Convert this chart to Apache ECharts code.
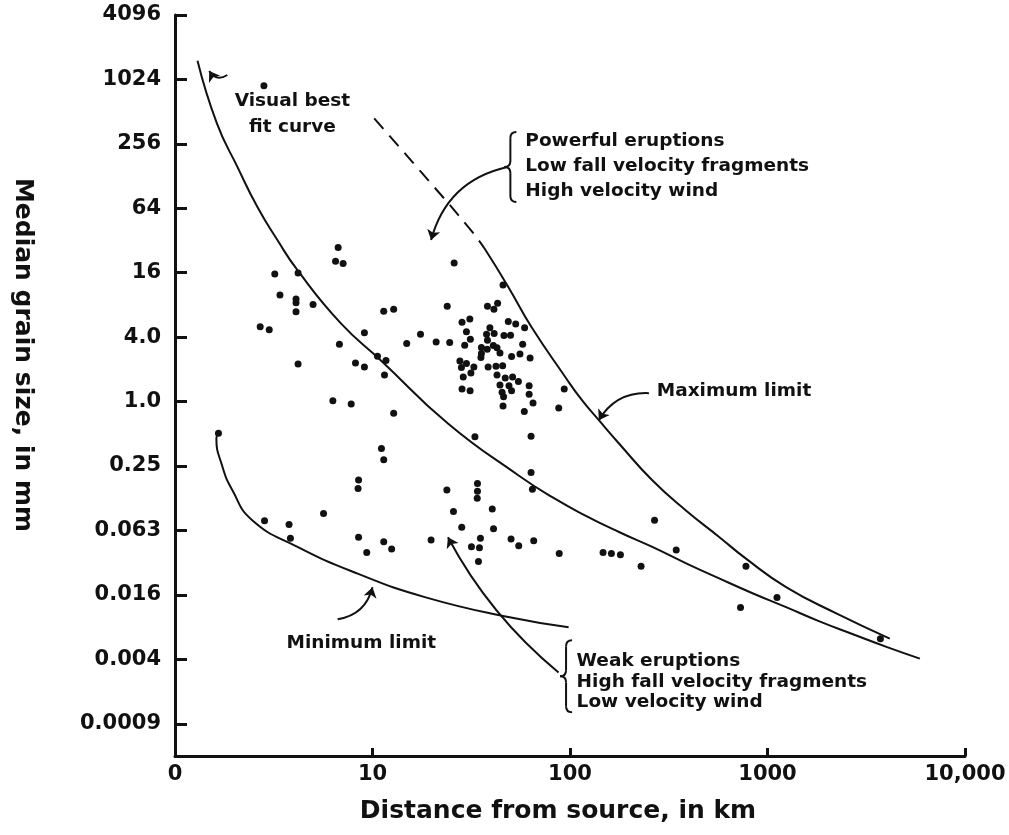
<!DOCTYPE html>
<html>
<head>
<meta charset="utf-8">
<script src="https://cdn.jsdelivr.net/npm/echarts@6/dist/echarts.min.js"></script>
<style>
  html, body { margin: 0; background: #fff; }
  #chart { width: 1009px; height: 835px; }
</style>
</head>
<body>
<div id="chart"></div>
<script>
// tick labels
const xTickLabels = ['0', '10', '100', '1000', '10,000']
const yTickExp = [12, 10, 8, 6, 4, 2, 0, -2, -4, -6, -8, -10]
const yTickLabels = ['4096', '1024', '256', '64', '16', '4.0', '1.0', '0.25', '0.063', '0.016', '0.004', '0.0009']

// samples: distance from source (km) / median grain size (mm)
const sampleKm = [
  6.7, 6.5, 7.1, 3.2, 4.2, 3.4, 4.1, 4.1, 4.1, 5.0, 11.4, 12.8, 23.9, 2.7, 3.0, 9.1, 6.8, 14.9, 17.5, 21.0,
  4.2, 8.2, 9.1, 10.6, 11.7, 11.5, 6.3, 7.8, 12.8, 25.9, 45.8, 38.2, 43.0, 41.2, 28.4, 31.1, 48.7, 53.1, 58.9, 29.9,
  39.3, 37.8, 41.3, 46.3, 50.0, 24.6, 31.3, 29.3, 38.2, 40.9, 35.6, 38.1, 42.7, 57.6, 44.2, 35.6, 35.4, 50.6, 55.8, 62.8,
  27.7, 29.9, 28.2, 32.6, 31.5, 38.5, 42.2, 45.6, 42.7, 28.8, 47.0, 51.2, 54.8, 44.2, 49.1, 62.1, 28.4, 31.2, 45.3, 50.6,
  62.1, 93.5, 46.1, 65.0, 45.8, 58.7, 87.7, 33.0, 63.5, 11.1, 11.4, 8.5, 8.45, 63.5, 64.5, 34.0, 34.0, 33.9, 23.8, 25.7,
  40.4, 5.65, 2.84, 3.78, 3.84, 28.3, 41.0, 8.5, 11.4, 12.5, 9.35, 19.8, 35.2, 50.3, 55.0, 65.5, 31.7, 34.8, 34.4, 88.2,
  268, 345, 147, 162, 180, 229, 778, 1117, 730, 3730, 2.82, 1.66
]
const sampleMm = [
  27.6, 20.5, 19.5, 15.6, 15.9, 9.9, 9.1, 8.4, 6.9, 8.1, 7.0, 7.3, 7.8, 5.0, 4.7, 4.4, 3.44, 3.5, 4.26, 3.6,
  2.25, 2.29, 2.11, 2.66, 2.42, 1.77, 1.02, 0.95, 0.78, 19.7, 12.3, 7.8, 8.3, 7.3, 5.5, 5.9, 5.6, 5.3, 4.9, 4.5,
  4.9, 4.26, 4.33, 4.15, 4.18, 3.57, 3.83, 3.37, 3.75, 3.35, 3.2, 3.09, 3.18, 3.44, 2.85, 2.82, 2.58, 2.64, 2.79, 2.56,
  2.39, 2.27, 2.08, 2.11, 1.85, 2.11, 2.14, 2.16, 1.77, 1.7, 1.66, 1.7, 1.54, 1.43, 1.41, 1.41, 1.31, 1.26, 1.22, 1.26,
  1.17, 1.31, 1.11, 0.97, 0.91, 0.81, 0.87, 0.47, 0.475, 0.364, 0.287, 0.185, 0.154, 0.217, 0.152, 0.172, 0.145, 0.125, 0.149, 0.094,
  0.099, 0.09, 0.077, 0.071, 0.053, 0.067, 0.065, 0.054, 0.049, 0.042, 0.039, 0.051, 0.053, 0.052, 0.045, 0.05, 0.044, 0.043, 0.032, 0.038,
  0.078, 0.041, 0.039, 0.038, 0.037, 0.029, 0.029, 0.0148, 0.0119, 0.0061, 894, 0.507
]

// curves
const bestFitKm = [1.30, 1.63, 2.07, 2.61, 3.30, 4.17, 6.90, 11.0, 24.1, 54.7, 80.9, 119, 177, 261, 385, 569, 840, 1242, 1833, 2710, 4000, 5910]
const bestFitMm = [1532, 398, 156, 66.1, 32.3, 16.9, 5.41, 2.44, 0.624, 0.205, 0.1285, 0.0867, 0.0605, 0.0439, 0.031, 0.0223, 0.0162, 0.012, 0.00884, 0.0067, 0.00511, 0.00397]
const maxDashKm = [10.2, 17.6, 30.5, 36.8]
const maxDashMm = [443, 140, 43.0, 27.2]
const maxLimitKm = [36.8, 48.7, 63.7, 94.6, 115, 140, 177, 261, 385, 569, 778, 1242, 2230, 4160]
const maxLimitMm = [27.2, 11.8, 5.0, 1.70, 1.03, 0.67, 0.406, 0.184, 0.0965, 0.0544, 0.0341, 0.0185, 0.0105, 0.00611]
const minLimitKm = [1.66, 1.62, 1.73, 1.95, 2.46, 4.17, 8.41, 18.4, 48.7, 98.4]
const minLimitMm = [0.507, 0.455, 0.254, 0.149, 0.078, 0.044, 0.0247, 0.0149, 0.0097, 0.0078]

// annotation arrows [fromKm, fromMm, toKm, toMm]
const arrowCoords = [
  [1.84, 1126, 1.49, 1228],
  [47.6, 155, 19.8, 32.3],
  [251, 1.2, 140, 0.67],
  [6.66, 0.00924, 10.0, 0.0184],
  [87.5, 0.00295, 24.1, 0.054]
]
const arrowBend = [0.5, -0.3, -0.3, -0.33, 0.1]

// annotation texts
const noteText = [
  'Powerful eruptions\nLow fall velocity fragments\nHigh velocity wind',
  'Maximum limit',
  'Minimum limit',
  'Weak eruptions\nHigh fall velocity fragments\nLow velocity wind'
]
const noteKm = [59.4, 275, 3.67, 108]
const noteMm = [159, 1.25, 0.0055, 0.00239]
const noteLineHeight = [25, 20, 20, 20.5]

// braces [km, topMm, bottomMm]
const braces = [[49.9, 330, 73.2], [95.5, 0.00588, 0.00125]]

const INK = '#111'
const FONT = 'DejaVu Sans'

const chart = echarts.init(document.getElementById('chart'))

function pts (km, mm) {
  return km.map((d, i) => [d, Math.log2(mm[i])])
}

function curve (km, mm, dashed) {
  return {
    type: 'line',
    data: pts(km, mm),
    smooth: 0.5,
    symbol: 'none',
    silent: true,
    lineStyle: { color: INK, width: 2, type: dashed ? [14, 9] : 'solid' }
  }
}

const option = {
  animation: false,
  backgroundColor: '#fff',
  grid: { left: 175, right: 44, top: 15, bottom: 79 },
  xAxis: {
    type: 'log',
    logBase: 10,
    min: 1,
    max: 10000,
    axisLine: { onZero: false, lineStyle: { color: INK, width: 3 } },
    axisTick: { inside: true, length: 8, lineStyle: { color: INK, width: 3 } },
    axisLabel: {
      color: INK,
      fontFamily: FONT,
      fontWeight: 'bold',
      fontSize: 21,
      margin: 8,
      formatter: v => xTickLabels[Math.round(Math.log10(v))]
    },
    splitLine: { show: false },
    minorTick: { show: false }
  },
  yAxis: {
    type: 'value',
    min: -11,
    max: 12,
    axisLine: { show: true, onZero: false, lineStyle: { color: INK, width: 3 } },
    axisTick: { show: true, inside: true, length: 12, customValues: yTickExp, lineStyle: { color: INK, width: 3 } },
    axisLabel: {
      color: INK,
      fontFamily: FONT,
      fontWeight: 'bold',
      fontSize: 21,
      margin: 14,
      customValues: yTickExp,
      formatter: v => {
        const i = yTickExp.indexOf(v)
        return i < 0 ? '' : yTickLabels[i]
      }
    },
    splitLine: { show: false }
  },
  series: [
    curve(bestFitKm, bestFitMm, false),
    curve(maxDashKm, maxDashMm, true),
    curve(maxLimitKm, maxLimitMm, false),
    curve(minLimitKm, minLimitMm, false),
    {
      type: 'scatter',
      data: pts(sampleKm, sampleMm),
      symbolSize: 7,
      itemStyle: { color: INK, opacity: 1 }
    },
    {
      type: 'lines',
      coordinateSystem: 'cartesian2d',
      symbol: ['none', 'arrow'],
      symbolSize: 10,
      silent: true,
      lineStyle: { color: INK, width: 2, opacity: 1 },
      data: arrowCoords.map((a, i) => ({
        coords: [[a[0], Math.log2(a[1])], [a[2], Math.log2(a[3])]],
        lineStyle: { curveness: arrowBend[i] }
      }))
    },
    {
      type: 'scatter',
      symbolSize: 0,
      silent: true,
      itemStyle: { opacity: 1 },
      data: noteText.map((t, i) => ({
        value: [noteKm[i], Math.log2(noteMm[i])],
        label: {
          show: true,
          position: 'right',
          distance: 0,
          formatter: t,
          color: INK,
          fontFamily: FONT,
          fontWeight: 'bold',
          fontSize: 18.5,
          lineHeight: noteLineHeight[i]
        }
      }))
    },
    {
      // "Visual best fit curve" label, centred on its anchor
      type: 'scatter',
      symbolSize: 0,
      silent: true,
      itemStyle: { opacity: 1 },
      data: [{
        value: [3.93, Math.log2(486)],
        label: {
          show: true,
          position: 'inside',
          formatter: 'Visual best\nfit curve',
          color: INK,
          fontFamily: FONT,
          fontWeight: 'bold',
          fontSize: 18.5,
          lineHeight: 26
        }
      }]
    }
  ]
}

chart.setOption(option)

// braces: curly bracket opening to the right, tip pointing left
const stroke = { stroke: INK, lineWidth: 2, fill: 'none' }
function brace (x, y0, y1, w) {
  const m = (y0 + y1) / 2
  return {
    type: 'group',
    children: [
      { type: 'bezierCurve', shape: { x1: x + w, y1: y0, cpx1: x, cpy1: y0, x2: x, y2: y0 + w }, style: stroke },
      { type: 'line', shape: { x1: x, y1: y0 + w, x2: x, y2: m - w }, style: stroke },
      { type: 'bezierCurve', shape: { x1: x, y1: m - w, cpx1: x, cpy1: m, x2: x - w, y2: m }, style: stroke },
      { type: 'bezierCurve', shape: { x1: x - w, y1: m, cpx1: x, cpy1: m, x2: x, y2: m + w }, style: stroke },
      { type: 'line', shape: { x1: x, y1: m + w, x2: x, y2: y1 - w }, style: stroke },
      { type: 'bezierCurve', shape: { x1: x, y1: y1 - w, cpx1: x, cpy1: y1, x2: x + w, y2: y1 }, style: stroke }
    ]
  }
}

const graphics = braces.map(b => {
  const top = chart.convertToPixel({ gridIndex: 0 }, [b[0], Math.log2(b[1])])
  const bot = chart.convertToPixel({ gridIndex: 0 }, [b[0], Math.log2(b[2])])
  return brace(top[0], top[1], bot[1], 6)
})

graphics.push({
  type: 'text',
  x: 558,
  y: 811,
  style: {
    text: 'Distance from source, in km',
    fill: INK,
    font: 'bold 25px "DejaVu Sans"',
    align: 'center',
    verticalAlign: 'middle'
  }
})
graphics.push({
  type: 'text',
  x: 22,
  y: 355,
  rotation: -Math.PI / 2,
  style: {
    text: 'Median grain size, in mm',
    fill: INK,
    font: 'bold 25px "DejaVu Sans"',
    align: 'center',
    verticalAlign: 'middle'
  }
})

chart.setOption({ graphic: graphics })
</script>
</body>
</html>
